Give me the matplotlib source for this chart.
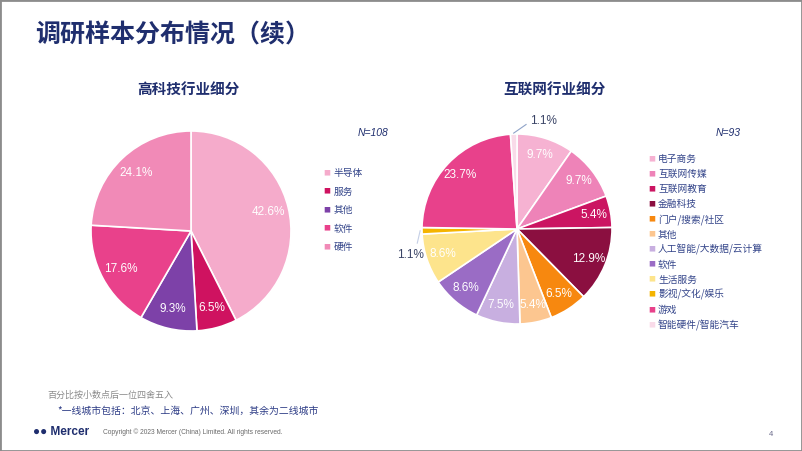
import numpy as np
import matplotlib.pyplot as plt
from matplotlib.patches import Rectangle

plt.rcParams['font.family'] = ['Noto Sans CJK SC', 'DejaVu Sans']

# data
hitech_labels = ['半导体', '服务', '其他', '软件', '硬件']
hitech_values = [42.6, 6.5, 9.3, 17.6, 24.1]
hitech_colors = ['#f5abcb', '#cf1260', '#7d41a8', '#e9418b', '#f18ab7']

web_labels = ['电子商务', '互联网传媒', '互联网教育', '金融科技', '门户/搜索/社区', '其他',
              '人工智能/大数据/云计算', '软件', '生活服务', '影视/文化/娱乐', '游戏',
              '智能硬件/智能汽车']
web_values = [9.7, 9.7, 5.4, 12.9, 6.5, 5.4, 7.5, 8.6, 8.6, 1.1, 23.7, 1.1]
web_colors = ['#f6b2d2', '#ee83b8', '#cb1562', '#8b0f40', '#f7880f', '#fcc690',
              '#c8afe0', '#9a6cc5', '#fde48c', '#f4b400', '#e8418b', '#f9dbe9']

NAVY = '#1f2e6e'
W, H = 802, 451

fig = plt.figure(figsize=(W / 100, H / 100), dpi=100)


def px_axes(cx, cy, r):
    return fig.add_axes([(cx - r) / W, (H - cy - r) / H, 2 * r / W, 2 * r / H])


def draw_pie(ax, values, colors, pctdist):
    wedges, texts, autotexts = ax.pie(
        values, colors=colors, startangle=90, counterclock=False, normalize=True,
        autopct='%.1f%%', pctdistance=pctdist,
        wedgeprops=dict(edgecolor='white', linewidth=1.2),
        textprops=dict(color='white', fontsize=8.5, family=['Liberation Sans']))
    ax.set_xlim(-1, 1)
    ax.set_ylim(-1, 1)
    ax.set_aspect('equal')
    ax.axis('off')
    return wedges, autotexts


# left pie
ax1 = px_axes(191, 231, 100)
draw_pie(ax1, hitech_values, hitech_colors, 0.8)

# right pie
ax2 = px_axes(517, 229, 95)
wedges, autos = draw_pie(ax2, web_values, web_colors, 0.82)
for w, t, v in zip(wedges, autos, web_values):
    if v >= 2:
        continue
    t.set_visible(False)
    ang = np.deg2rad((w.theta1 + w.theta2) / 2)
    x, y = np.cos(ang), np.sin(ang)
    if y > 0.9:
        # small slice at the top: slanted leader up to the right
        ex, ey = x + 0.13, 1.10
        ax2.plot([x * 1.01, ex], [y * 1.01, ey], color='#8fa3c8', lw=0.8, clip_on=False)
        ax2.text(ex + 0.04, 1.14, f'{v:.1f}%', ha='left', va='center', fontsize=8.5,
                 color='#3a4466', family=['Liberation Sans'])
    else:
        # small slice on the left: short vertical leader down to the label
        ax2.plot([x * 1.01 - 0.01, x * 1.01 - 0.04], [y, y - 0.13], color='#c5cfe6',
                 lw=0.8, clip_on=False)
        ax2.text(-0.985, y - 0.26, f'{v:.1f}%', ha='right', va='center', fontsize=8.5,
                 color='#3a4466', family=['Liberation Sans'])

# titles
fig.text(35 / W, 1 - 35 / H, '调研样本分布情况（续）', fontsize=18, fontweight='bold',
         color=NAVY, va='center', ha='left')
fig.text(188 / W, 1 - 90 / H, '高科技行业细分', fontsize=10.5, fontweight='bold',
         color=NAVY, va='center', ha='center')
fig.text(555 / W, 1 - 90 / H, '互联网行业细分', fontsize=10.5, fontweight='bold',
         color=NAVY, va='center', ha='center')
fig.text(373 / W, 1 - 133 / H, 'N=108', fontsize=7.5, style='italic', color=NAVY,
         va='center', ha='center', family=['Liberation Sans'])
fig.text(728 / W, 1 - 133 / H, 'N=93', fontsize=7.5, style='italic', color=NAVY,
         va='center', ha='center', family=['Liberation Sans'])

# legends
for i, (lab, c) in enumerate(zip(hitech_labels, hitech_colors)):
    y = 1 - (173 + i * 18.6) / H
    fig.text(327 / W, y, '■', color=c, fontsize=5, va='center', ha='center')
    fig.text(334 / W, y, lab, color='#34458a', fontsize=7, va='center', ha='left')

for i, (lab, c) in enumerate(zip(web_labels, web_colors)):
    y = 1 - (159 + i * 15.1) / H
    fig.text(652 / W, y, '■', color=c, fontsize=5, va='center', ha='center')
    fig.text(658 / W, y, lab, color='#34458a', fontsize=7, va='center', ha='left')

# footnotes
fig.text(47 / W, 1 - 395 / H, '百分比按小数点后一位四舍五入', fontsize=6.5, color='#8a8a8a',
         va='center', ha='left')
fig.text(57 / W, 1 - 411 / H, '*一线城市包括：北京、上海、广州、深圳，其余为二线城市', fontsize=7.1,
         color='#2d3c86', va='center', ha='left')
fig.text(33 / W, 1 - 432 / H, '●● Mercer', fontsize=8.5, fontweight='bold', color=NAVY,
         va='center', ha='left', family=['Liberation Sans'])
fig.text(103 / W, 1 - 432 / H, 'Copyright © 2023 Mercer (China) Limited. All rights reserved.',
         fontsize=4.8, color='#6a6a6a', va='center', ha='left', family=['Liberation Sans'])
fig.text(771 / W, 1 - 435 / H, '4', fontsize=5.5, color='#6a6a8a', va='center', ha='center',
         family=['Liberation Sans'])

# frame
fig.patches.append(Rectangle((0, 0), 1, 1, transform=fig.transFigure, fill=False,
                             edgecolor='#8c8c8c', linewidth=2))

fig.savefig('out.png', dpi=100)
